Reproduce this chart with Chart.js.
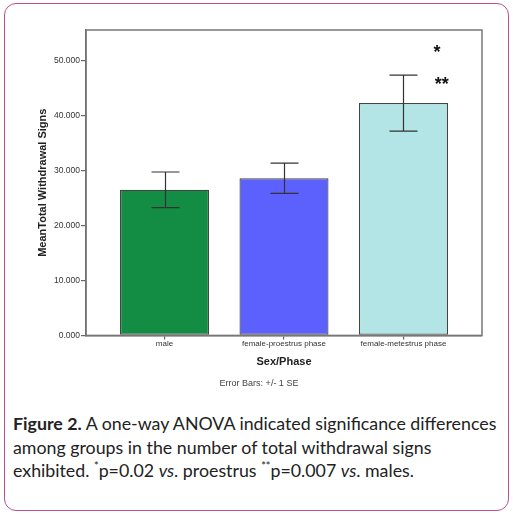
<!DOCTYPE html>
<html>
<head>
<meta charset="utf-8">
<script src="https://cdn.jsdelivr.net/npm/chart.js@4"></script>
<style>
  html, body { margin: 0; padding: 0; background: #fff; }
  #page { position: relative; width: 513px; height: 515px; overflow: hidden; }
  #frame {
    position: absolute; left: 4px; top: 3px; width: 503px; height: 506px;
    border: 1.5px solid #b8508f; border-radius: 12px;
  }
  #chart { position: absolute; left: 0; top: 0; }
  #caption {
    position: absolute; left: 13px; top: 412px; width: 498px; white-space: nowrap;
    font-family: 'Lato', 'Open Sans', sans-serif; font-size: 17.8px; line-height: 23.5px;
    color: #222;
  }
  #caption b { font-weight: 700; }
  #caption sup { font-size: 11px; line-height: 0; vertical-align: 7px; }
</style>
</head>
<body>
<div id="page">
  <div id="frame"></div>
  <canvas id="chart" width="513" height="400"></canvas>
  <div id="caption"><b>Figure 2.</b> A one-way ANOVA indicated significance differences<br>among groups in the number of total withdrawal signs<br>exhibited. <sup>*</sup>p=0.02 <i>vs</i>. proestrus <sup>**</sup>p=0.007 <i>vs</i>. males.</div>
</div>
<script>
const AXIS = '#666'
const TEXT = '#333'

const groups = ['male', 'female-proestrus phase', 'female-metestrus phase']
const means = [26.5, 28.6, 42.3]
const se = [3.25, 2.75, 5.1]
const barColors = ['#138d44', '#5c60fd', '#b3e5e6']
const yTicks = [0, 10, 20, 30, 40, 50]
const yMax = 55.6

// significance marks: [x (group position), y (value), text]
const starX = [2.28, 2.32]
const starY = [52.2, 46.3]
const starText = ['*', '**']

const extras = {
  id: 'extras',
  afterDatasetsDraw(chart) {
    const { ctx, chartArea, scales } = chart
    const x = scales.x
    const y = scales.y
    ctx.save()
    // error bars
    ctx.strokeStyle = '#333'
    ctx.lineWidth = 1.2
    means.forEach((m, i) => {
      const px = Math.round(x.getPixelForValue(i)) + 0.5
      const top = y.getPixelForValue(m + se[i])
      const bot = y.getPixelForValue(m - se[i])
      ctx.beginPath()
      ctx.moveTo(px, top)
      ctx.lineTo(px, bot)
      ctx.moveTo(px - 14, top)
      ctx.lineTo(px + 14, top)
      ctx.moveTo(px - 14, bot)
      ctx.lineTo(px + 14, bot)
      ctx.stroke()
    })
    // stars
    ctx.fillStyle = '#111'
    ctx.font = 'bold 18px "Liberation Sans", Arial, sans-serif'
    ctx.textAlign = 'center'
    ctx.textBaseline = 'middle'
    starText.forEach((t, i) => {
      ctx.fillText(t, x.getPixelForValue(starX[i]), y.getPixelForValue(starY[i]) + 4)
    })
    // plot frame
    ctx.strokeStyle = '#777'
    ctx.lineWidth = 1.5
    ctx.strokeRect(chartArea.left, chartArea.top, chartArea.right - chartArea.left, chartArea.bottom - chartArea.top)
    ctx.restore()
  },
}

new Chart(document.getElementById('chart'), {
  type: 'bar',
  data: {
    datasets: [
      {
        data: means.map((m, i) => ({ x: i, y: m })),
        backgroundColor: barColors,
        borderColor: '#444',
        borderWidth: 1.2,
        borderSkipped: false,
        barPercentage: 0.745,
        categoryPercentage: 1,
      },
    ],
  },
  options: {
    responsive: false,
    animation: false,
    layout: { padding: { left: 36, right: 31, top: 30, bottom: 11 } },
    scales: {
      x: {
        type: 'linear',
        offset: false,
        min: -0.657,
        max: 2.657,
        afterBuildTicks: (s) => { s.ticks = groups.map((g, i) => ({ value: i })) },
        grid: { offset: false, drawOnChartArea: false, color: AXIS, tickLength: 4, lineWidth: 1.2 },
        border: { color: AXIS, width: 1.5 },
        ticks: {
          autoSkip: false,
          maxRotation: 0,
          padding: 0,
          color: TEXT,
          font: { family: "'Liberation Sans', Arial, sans-serif", size: 8 },
          callback: (v) => groups[v],
        },
        title: {
          display: true,
          text: 'Sex/Phase',
          color: '#222',
          padding: { top: 6, bottom: 0 },
          font: { family: "'Liberation Sans', Arial, sans-serif", size: 11, weight: 'bold' },
        },
      },
      y: {
        min: 0,
        max: yMax,
        afterBuildTicks: (s) => { s.ticks = yTicks.map((v) => ({ value: v })) },
        afterFit: (s) => { s.width = 50 },
        grid: { drawOnChartArea: false, color: AXIS, tickLength: 5, lineWidth: 1.2 },
        border: { color: AXIS, width: 1.5 },
        ticks: {
          padding: 1,
          color: TEXT,
          font: { family: "'Liberation Sans', Arial, sans-serif", size: 8.5 },
          callback: (v) => v.toFixed(3),
        },
        title: {
          display: true,
          text: 'MeanTotal Withdrawal Signs',
          color: '#222',
          padding: { top: 0, bottom: 0 },
          font: { family: "'Liberation Sans', Arial, sans-serif", size: 11, weight: 'bold' },
        },
      },
    },
    plugins: {
      legend: { display: false },
      tooltip: { enabled: false },
      subtitle: {
        display: true,
        position: 'bottom',
        text: 'Error Bars: +/- 1 SE',
        color: '#444',
        padding: { top: 10, bottom: 0 },
        font: { family: "'Liberation Sans', Arial, sans-serif", size: 9 },
      },
    },
  },
  plugins: [extras],
})
</script>
</body>
</html>
